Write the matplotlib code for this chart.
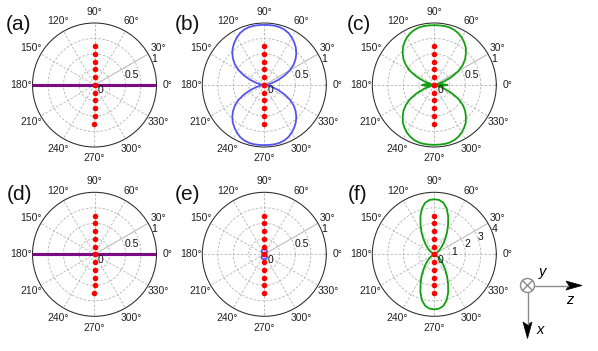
import numpy as np
import matplotlib
matplotlib.use("Agg")
import matplotlib.pyplot as plt
from matplotlib.transforms import offset_copy
from matplotlib.patches import Circle, Polygon

plt.rcParams['font.family'] = ['Liberation Sans', 'DejaVu Sans']

# ---------------- data ----------------
# pattern angles (deg); each pattern is point-symmetric, drawn again at +180 deg
ANGLES_DEG = [0, 5, 10, 15, 20, 25, 30, 35, 40, 45, 50, 55, 60, 65, 70, 75, 80, 85, 90,
              95, 100, 105, 110, 115, 120, 125, 130, 135, 140, 145, 150, 155, 160, 165,
              170, 175, 180]

PAT_A = [1.0, 0, 0, 0, 0, 0, 0, 0, 0, 0, 0, 0, 0, 0, 0, 0, 0, 0, 0,
         0, 0, 0, 0, 0, 0, 0, 0, 0, 0, 0, 0, 0, 0, 0, 0, 0, 1.0]
PAT_B = [0, 0.02, 0.07, 0.14, 0.24, 0.36, 0.48, 0.58, 0.66, 0.73, 0.79, 0.84, 0.885, 0.925,
         0.95, 0.965, 0.97, 0.97, 0.97, 0.97, 0.97, 0.965, 0.95, 0.925, 0.885, 0.84, 0.79,
         0.73, 0.66, 0.58, 0.48, 0.36, 0.24, 0.14, 0.07, 0.02, 0]
PAT_C = [0.2, 0.15, 0.06, 0.05, 0.17, 0.31, 0.45, 0.56, 0.65, 0.72, 0.79, 0.84, 0.885, 0.92,
         0.945, 0.96, 0.965, 0.965, 0.965, 0.965, 0.965, 0.96, 0.945, 0.92, 0.885, 0.84,
         0.79, 0.72, 0.65, 0.56, 0.45, 0.31, 0.17, 0.05, 0.06, 0.15, 0.2]
PAT_D = PAT_A
PAT_E = [0, 0.002, 0.006, 0.013, 0.022, 0.032, 0.042, 0.05, 0.057, 0.062, 0.066, 0.07,
         0.073, 0.076, 0.078, 0.079, 0.08, 0.08, 0.08, 0.08, 0.08, 0.079, 0.078, 0.076,
         0.073, 0.07, 0.066, 0.062, 0.057, 0.05, 0.042, 0.032, 0.022, 0.013, 0.006, 0.002, 0]
PAT_F = [0, 0, 0, 0, 0.02, 0.06, 0.15, 0.27, 0.45, 0.65, 0.92, 1.25, 1.65, 2.1, 2.62, 3.07,
         3.38, 3.52, 3.55, 3.52, 3.38, 3.07, 2.62, 2.1, 1.65, 1.25, 0.92, 0.65, 0.45, 0.27,
         0.15, 0.06, 0.02, 0, 0, 0, 0]

THETA_TICKS = [0, 30, 60, 90, 120, 150, 180, 210, 240, 270, 300, 330]
THETA_LABELS = ['0°', '30°', '60°', '90°', '120°', '150°', '180°', '210°', '240°',
                '270°', '300°', '330°']

RMAX_1 = 1.0
RINGS_1 = [0.25, 0.5, 0.75]
RTICKS_1 = [0, 0.5, 1]
RTICK_LABELS_1 = ['0', '0.5', '1']
DOTS_1 = [0, 0.125, 0.25, 0.375, 0.5, 0.625]

RMAX_F = 4.0
RINGS_F = [1, 2, 3]
RTICKS_F = [0, 1, 2, 3, 4]
RTICK_LABELS_F = ['0', '1', '2', '3', '4']
DOTS_F = [0, 0.5, 1.0, 1.5, 2.0, 2.5]

PANEL_LABELS = ['(a)', '(b)', '(c)', '(d)', '(e)', '(f)']

# ---------------- layout ----------------
W, H, DPI = 598, 351, 100
fig = plt.figure(figsize=(W / DPI, H / DPI), dpi=DPI)

R = 62.0
CX = [94.5, 264.3, 434.3]
CY = [85.0, 254.3]

GRID_C = '#b4b4b4'
BLUE = '#5555ee'
GREEN = '#12a012'
PURPLE = '#7d0b84'


def panel(cx, cy, rmax, rings, rticks, rlabels, pat, color, lw, dots):
    ax = fig.add_axes([(cx - R) / W, (H - cy - R) / H, 2 * R / W, 2 * R / H],
                      projection='polar')
    ax.set_ylim(0, rmax)
    ax.grid(False)
    ax.set_xticks([])
    ax.set_yticks([])
    ax.spines['polar'].set_color('#2a2a2a')
    ax.spines['polar'].set_linewidth(0.75)
    circ = np.linspace(0, 2 * np.pi, 361)
    for rv in rings:
        ax.plot(circ, np.full_like(circ, rv), color=GRID_C, lw=0.6, ls=(0, (3, 2)))
    for a in THETA_TICKS:
        if a == 30:
            ax.plot([np.deg2rad(a)] * 2, [0, rmax], color=GRID_C, lw=0.7, ls='-')
        else:
            ax.plot([np.deg2rad(a)] * 2, [0, rmax], color=GRID_C, lw=0.6, ls=(0, (3, 2)))
    # pattern
    ang = np.deg2rad(np.asarray(ANGLES_DEG, dtype=float))
    th = np.concatenate([ang, ang + np.pi])
    rr = np.concatenate([pat, pat])
    ax.plot(th, rr, color=color, lw=lw, solid_joinstyle='round', zorder=3)
    # dots
    d = np.asarray(dots)
    ax.plot(np.full(len(d), np.pi / 2), d, 'o', color='#ff0000', ms=4.0, mew=0, zorder=4)
    ax.plot(np.full(len(d), 3 * np.pi / 2), d, 'o', color='#ff0000', ms=4.0, mew=0, zorder=4)
    # theta labels
    for a, lab in zip(THETA_TICKS, THETA_LABELS):
        ax.text(np.deg2rad(a), rmax * 1.185, lab, ha='center', va='center',
                fontsize=7.5, color='#222222', clip_on=False)
    # r labels
    tr = offset_copy(ax.transData, fig=fig, x=3.3, y=-5.5, units='dots')
    for v, lab in zip(rticks, rlabels):
        ax.text(np.deg2rad(30), v, lab, transform=tr, ha='left', va='center',
                fontsize=7.5, color='#111111', clip_on=False, zorder=5)
    return ax


panel(CX[0], CY[0], RMAX_1, RINGS_1, RTICKS_1, RTICK_LABELS_1, PAT_A, PURPLE, 2.2, DOTS_1)
panel(CX[1], CY[0], RMAX_1, RINGS_1, RTICKS_1, RTICK_LABELS_1, PAT_B, BLUE, 1.3, DOTS_1)
panel(CX[2], CY[0], RMAX_1, RINGS_1, RTICKS_1, RTICK_LABELS_1, PAT_C, GREEN, 1.3, DOTS_1)
panel(CX[0], CY[1], RMAX_1, RINGS_1, RTICKS_1, RTICK_LABELS_1, PAT_D, PURPLE, 2.2, DOTS_1)
panel(CX[1], CY[1], RMAX_1, RINGS_1, RTICKS_1, RTICK_LABELS_1, PAT_E, BLUE, 1.3, DOTS_1)
panel(CX[2], CY[1], RMAX_F, RINGS_F, RTICKS_F, RTICK_LABELS_F, PAT_F, GREEN, 1.3, DOTS_F)

# overlay in pixel coordinates
ov = fig.add_axes([0, 0, 1, 1])
ov.set_xlim(0, W)
ov.set_ylim(H, 0)
ov.axis('off')
ov.patch.set_alpha(0)

label_pos = [(6, 25), (175, 25), (346.5, 25), (6.5, 195), (175, 195), (348, 195)]
for lab, (x, y) in zip(PANEL_LABELS, label_pos):
    ov.text(x, y, lab, ha='left', va='center', fontsize=15, color='#111111')

# coordinate system sketch
ccx, ccy, cr = 527.5, 285.5, 7.0
ov.add_patch(Circle((ccx, ccy), cr, fill=False, ec='#8a8a8a', lw=1.0))
k = cr * 0.707
ov.plot([ccx - k, ccx + k], [ccy - k, ccy + k], color='#8a8a8a', lw=1.0)
ov.plot([ccx - k, ccx + k], [ccy + k, ccy - k], color='#8a8a8a', lw=1.0)
ov.plot([ccx + cr, 568], [ccy, ccy], color='#8a8a8a', lw=1.0)
ov.add_patch(Polygon([(582, ccy), (566, ccy - 4.5), (569, ccy), (566, ccy + 4.5)],
                     closed=True, fc='black', ec='black', lw=0.5))
ov.plot([ccx, ccx], [ccy + cr, 324], color='#8a8a8a', lw=1.0)
ov.add_patch(Polygon([(ccx, 338.5), (ccx - 4.5, 322), (ccx, 325), (ccx + 4.5, 322)],
                     closed=True, fc='black', ec='black', lw=0.5))
ov.text(543, 272, 'y', fontsize=10.5, style='italic', ha='center', va='center')
ov.text(570, 300, 'z', fontsize=10.5, style='italic', ha='center', va='center')
ov.text(540, 330, 'x', fontsize=10.5, style='italic', ha='center', va='center')

fig.savefig('out.png', dpi=DPI)
